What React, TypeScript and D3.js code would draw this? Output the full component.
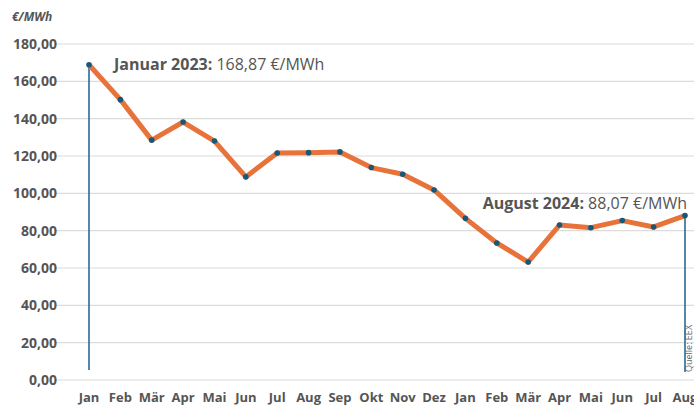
import React from "react";
import * as d3 from "d3";

const months = ["Jan","Feb","Mär","Apr","Mai","Jun","Jul","Aug","Sep","Okt","Nov","Dez","Jan","Feb","Mär","Apr","Mai","Jun","Jul","Aug"];
const prices = [168.87,150.2,128.5,138.2,128.0,108.8,121.6,121.8,122.2,113.8,110.2,101.8,86.6,73.4,63.2,83.0,81.6,85.4,82.0,88.07];
const yTicks = [0,20,40,60,80,100,120,140,160,180];

const W = 694, H = 408;
const FONT = "'Open Sans', 'Noto Sans', sans-serif";

export default function App() {
  const x = d3.scaleLinear().domain([0, months.length - 1]).range([89, 685]);
  const y = d3.scaleLinear().domain([0, 180]).range([380, 44]);
  const line = d3.line<number>().x((_, i) => x(i)).y(d => y(d));
  const fmt = (v: number) => v.toFixed(2).replace(".", ",");
  const last = months.length - 1;
  return (
    <svg width={W} height={H} style={{ position: "absolute", left: 0, top: 0, background: "#fff" }}>
      <text x={12} y={21} fontFamily={FONT} fontSize={12} fontWeight={700} fontStyle="italic" fill="#555">€/MWh</text>
      {yTicks.map(t => (
        <g key={t}>
          <line x1={55} x2={W} y1={y(t)} y2={y(t)} stroke="#dcdcdc" strokeWidth={1.2} />
          <text x={57} y={y(t)} dy="0.35em" textAnchor="end" fontFamily={FONT} fontSize={14} fontWeight={700} fill="#555">{fmt(t)}</text>
        </g>
      ))}
      {months.map((m, i) => (
        <text key={i} x={x(i)} y={402} textAnchor="middle" fontFamily={FONT} fontSize={13} fontWeight={700} fill="#555">{m}</text>
      ))}
      <line x1={x(0)} x2={x(0)} y1={y(prices[0])} y2={370} stroke="#1c5f8c" strokeWidth={1.5} />
      <line x1={x(last)} x2={x(last)} y1={y(prices[last])} y2={372} stroke="#1c5f8c" strokeWidth={1.5} />
      <path d={line(prices) || ""} fill="none" stroke="#e8733a" strokeWidth={5} strokeLinejoin="round" />
      {prices.map((p, i) => (
        <circle key={i} cx={x(i)} cy={y(p)} r={2.8} fill="#16587c" />
      ))}
      <text x={114} y={70} fontFamily={FONT} fontSize={16} fill="#555">
        <tspan fontWeight={700}>Januar 2023:</tspan> 168,87 €/MWh
      </text>
      <text x={687} y={209} textAnchor="end" fontFamily={FONT} fontSize={16} fill="#555">
        <tspan fontWeight={700}>August 2024:</tspan> 88,07 €/MWh
      </text>
      <text transform="translate(692,372) rotate(-90)" fontFamily={FONT} fontSize={9} fill="#666">Quelle: EEX</text>
    </svg>
  );
}
